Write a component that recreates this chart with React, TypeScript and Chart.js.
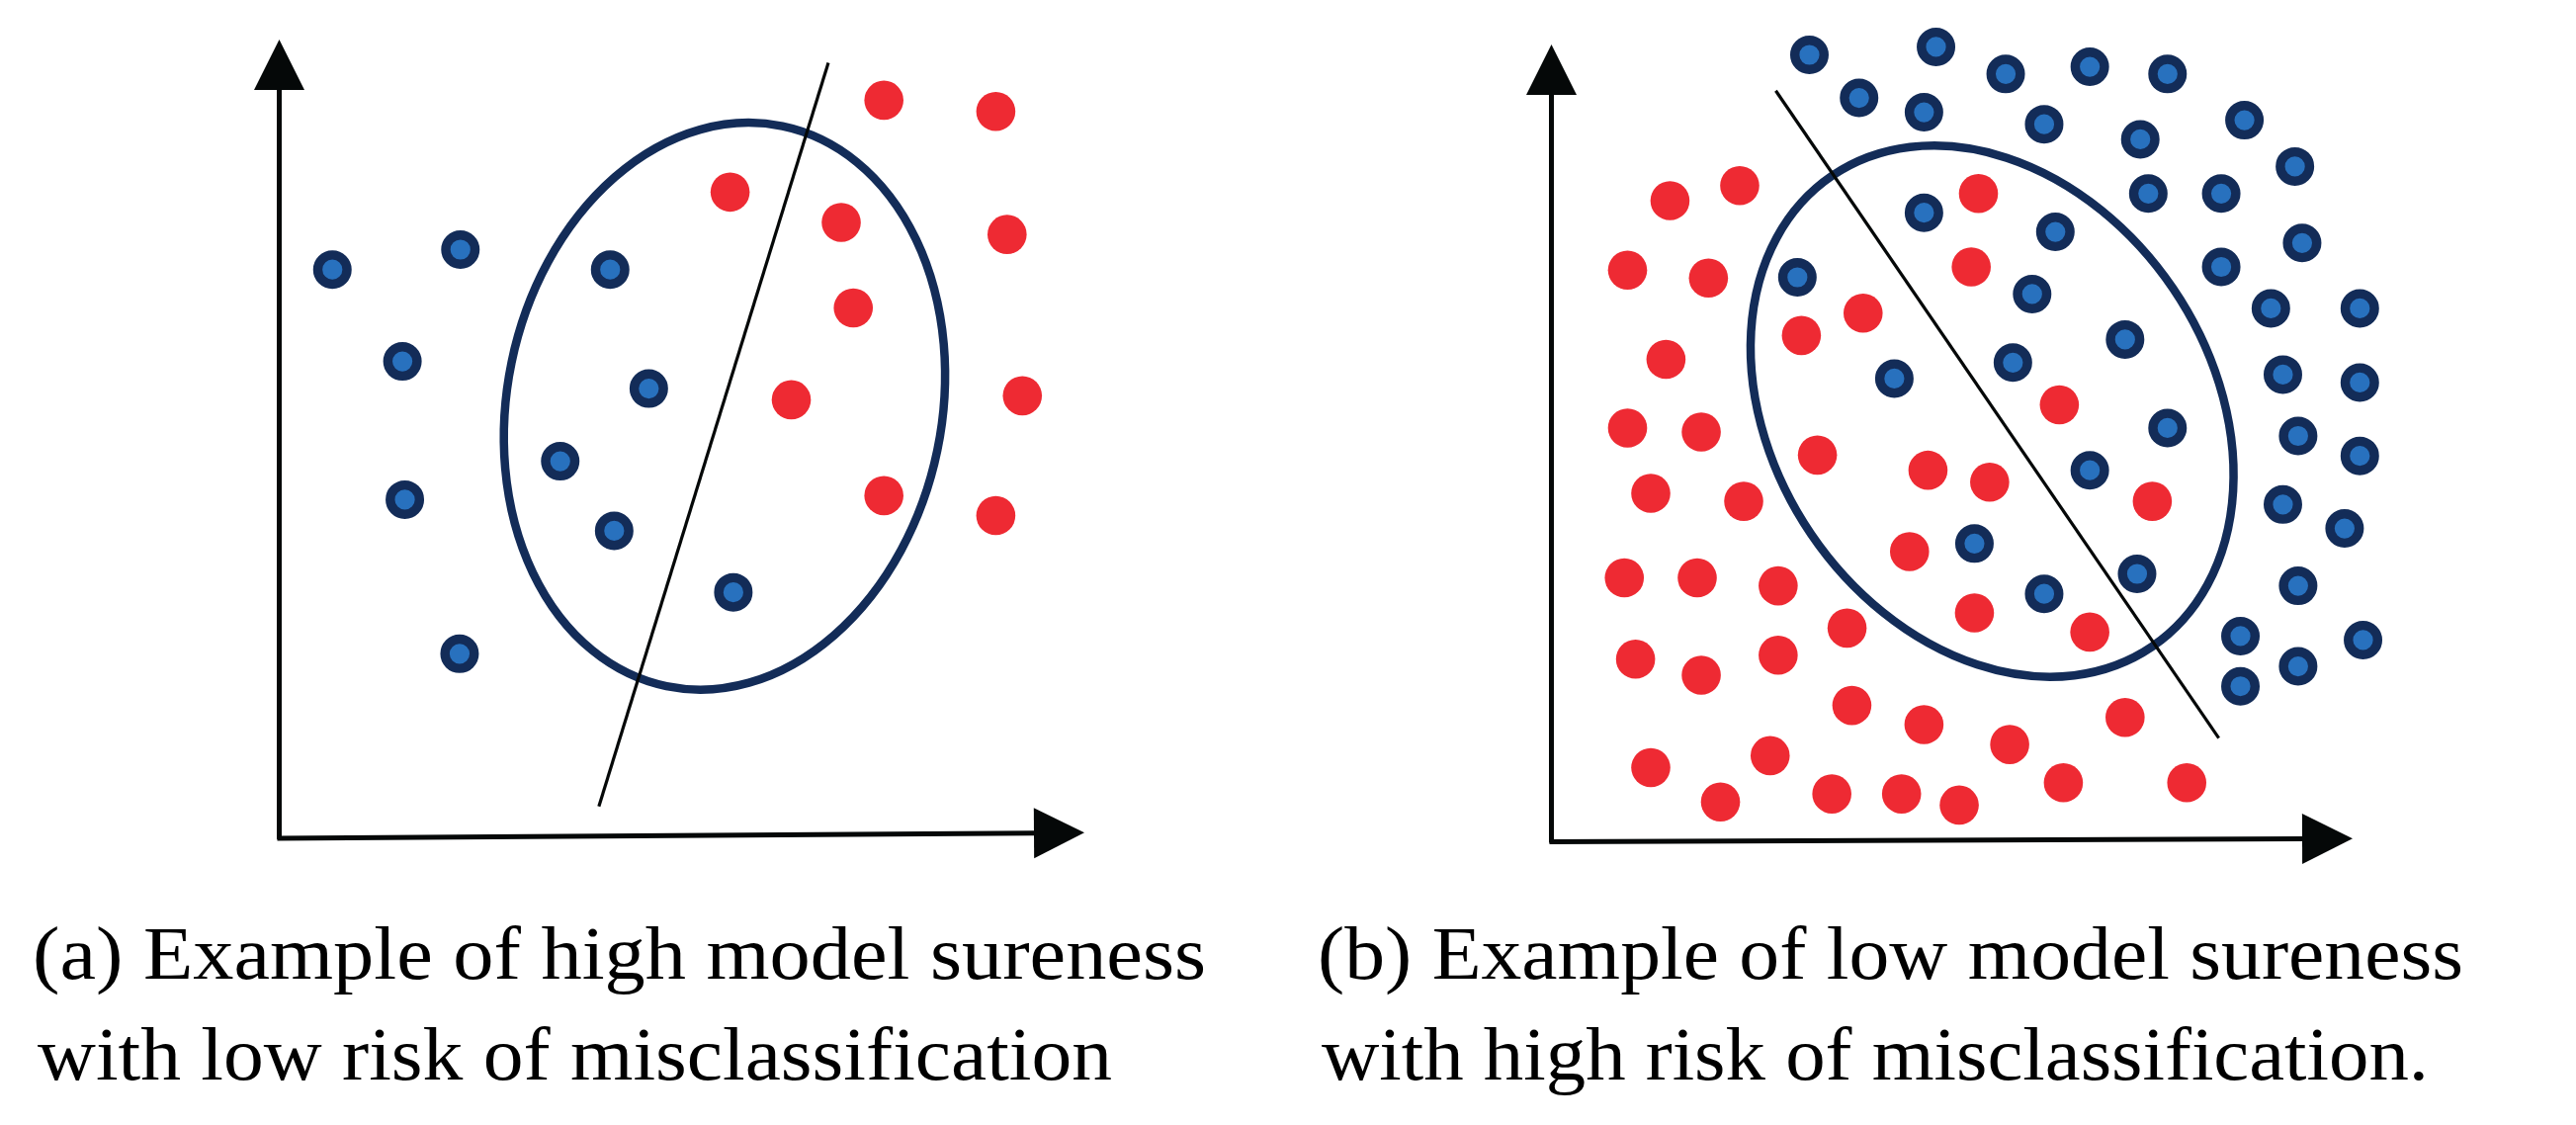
import React, { useEffect, useRef } from "react";
import { Chart, registerables } from "chart.js";

Chart.register(...registerables);

// ---------- Panel (a): high model sureness ----------
const A_BLUE_X = [0.66, 2.25, 1.53, 1.56, 2.24, 4.11, 4.59, 3.49, 4.16, 5.64];
const A_BLUE_Y = [7.12, 7.37, 5.97, 4.24, 2.31, 7.12, 5.63, 4.72, 3.85, 3.08];
const A_RED_X = [7.51, 8.9, 5.6, 6.98, 9.04, 7.13, 6.36, 9.23, 7.51, 8.9];
const A_RED_Y = [9.24, 9.1, 8.09, 7.71, 7.56, 6.64, 5.49, 5.54, 4.29, 4.04];
const A_BOUNDARY_X = [6.82, 3.97];
const A_BOUNDARY_Y = [9.71, 0.4];
const A_ELLIPSE_CENTER = [5.53, 5.41];
const A_ELLIPSE_RADII = [2.7, 3.58];
const A_ELLIPSE_TILT = 11.7;
const A_XAXIS_TILT = 0.07;
const A_CAPTION = ["(a) Example of high model sureness", "with low risk of misclassification"];

// ---------- Panel (b): low model sureness ----------
const B_BLUE_X = [
  3.22, 4.8, 5.67, 6.72, 7.69, 3.84, 4.65, 6.15, 7.35, 8.65,
  9.28, 7.45, 8.36, 4.65, 6.29, 9.37, 3.07, 8.36, 6.0, 8.98,
  10.09, 7.16, 5.76, 4.28, 9.13, 10.09, 7.69, 9.32, 10.09, 6.72,
  9.13, 9.9, 5.28, 7.31, 9.32, 6.15, 8.6, 10.13, 9.32, 8.6,
];
const B_BLUE_Y = [
  9.87, 9.97, 9.63, 9.72, 9.63, 9.33, 9.15, 9.0, 8.81, 9.05,
  8.47, 8.13, 8.13, 7.89, 7.65, 7.51, 7.08, 7.21, 6.87, 6.69,
  6.69, 6.3, 6.01, 5.81, 5.86, 5.76, 5.19, 5.09, 4.84, 4.66,
  4.23, 3.93, 3.74, 3.36, 3.21, 3.11, 2.58, 2.53, 2.2, 1.95,
];
const B_RED_X = [
  1.48, 2.35, 0.95, 1.96, 1.43, 0.95, 1.87, 1.24, 2.4, 0.91,
  1.82, 2.83, 1.05, 1.87, 2.83, 3.69, 3.75, 1.24, 2.73, 2.11,
  3.5, 4.37, 5.09, 4.65, 5.72, 6.39, 7.16, 7.93, 5.33, 5.24,
  3.89, 3.12, 3.32, 6.34, 4.7, 5.47, 7.5, 4.47, 5.28, 6.72,
];
const B_RED_Y = [
  8.04, 8.23, 7.17, 7.07, 6.05, 5.19, 5.14, 4.37, 4.27, 3.31,
  3.31, 3.21, 2.29, 2.09, 2.34, 2.68, 1.71, 0.93, 1.08, 0.5,
  0.6, 0.6, 0.46, 1.47, 1.22, 0.74, 1.56, 0.74, 8.13, 7.21,
  6.63, 6.35, 4.85, 5.48, 4.66, 4.51, 4.27, 3.64, 2.87, 2.63,
];
const B_BOUNDARY_X = [2.8, 8.33];
const B_BOUNDARY_Y = [9.42, 1.3];
const B_ELLIPSE_CENTER = [5.5, 5.4];
const B_ELLIPSE_RADII = [2.73, 3.57];
const B_ELLIPSE_TILT = -34.2;
const B_XAXIS_TILT = 0.04;
const B_CAPTION = ["(b) Example of low model sureness", "with high risk of misclassification."];

// ---------- styles ----------
const NAVY = "#132c58";
const LIGHT_BLUE = "#2871be";
const RED = "#ee2a33";
const INK = "#050808";
const CAPTION_FONT = '76px "Liberation Serif", "DejaVu Serif", serif';

const toPoints = (xs: number[], ys: number[]) => xs.map((x, i) => ({ x, y: ys[i] }));

const diagramPlugin = {
  id: "diagram",
  beforeDatasetsDraw(chart: any, _args: any, opts: any) {
    const { ctx } = chart;
    const xs = chart.scales.x;
    const ys = chart.scales.y;
    const px = (v: number) => xs.getPixelForValue(v);
    const py = (v: number) => ys.getPixelForValue(v);
    const head = 51;
    const half = 25.5;
    ctx.save();
    ctx.strokeStyle = INK;
    ctx.fillStyle = INK;
    ctx.lineWidth = 5;
    ctx.lineCap = "butt";
    const ox = px(0);
    const oy = py(0);
    // y axis
    const yTipX = px(0);
    const yTipY = py(10);
    ctx.beginPath();
    ctx.moveTo(ox, oy + 1);
    ctx.lineTo(yTipX, yTipY + head);
    ctx.stroke();
    ctx.beginPath();
    ctx.moveTo(yTipX, yTipY);
    ctx.lineTo(yTipX - half, yTipY + head);
    ctx.lineTo(yTipX + half, yTipY + head);
    ctx.closePath();
    ctx.fill();
    // x axis
    const xTipX = px(10);
    const xTipY = py(opts.xTilt);
    const dx = xTipX - ox;
    const dy = xTipY - oy;
    const len = Math.hypot(dx, dy);
    const ux = dx / len;
    const uy = dy / len;
    const bx = xTipX - ux * head;
    const by = xTipY - uy * head;
    ctx.beginPath();
    ctx.moveTo(ox - 2, oy);
    ctx.lineTo(bx, by);
    ctx.stroke();
    ctx.beginPath();
    ctx.moveTo(xTipX, xTipY);
    ctx.lineTo(bx - uy * half, by + ux * half);
    ctx.lineTo(bx + uy * half, by - ux * half);
    ctx.closePath();
    ctx.fill();
    // ellipse
    const [cx, cy] = opts.ellipseCenter;
    const [rx, ry] = opts.ellipseRadii;
    ctx.beginPath();
    ctx.ellipse(
      px(cx),
      py(cy),
      rx * (px(1) - px(0)),
      ry * (py(0) - py(1)),
      (opts.ellipseTilt * Math.PI) / 180,
      0,
      Math.PI * 2
    );
    ctx.lineWidth = 8.5;
    ctx.strokeStyle = NAVY;
    ctx.stroke();
    ctx.restore();
  },
  afterDraw(chart: any, _args: any, opts: any) {
    const { ctx } = chart;
    ctx.save();
    ctx.font = CAPTION_FONT;
    ctx.fillStyle = "#000";
    ctx.textBaseline = "alphabetic";
    ctx.textAlign = "left";
    opts.caption.forEach((text: string, i: number) => {
      const [x, base, w] = opts.captionLayout[i];
      const m = ctx.measureText(text).width;
      ctx.save();
      ctx.translate(x, base);
      ctx.scale(w / m, 1);
      ctx.fillText(text, 0, 0);
      ctx.restore();
    });
    ctx.restore();
  },
};

type PanelProps = {
  width: number;
  left: number;
  padding: { left: number; right: number; top: number; bottom: number };
  blue: { x: number; y: number }[];
  red: { x: number; y: number }[];
  boundary: { x: number; y: number }[];
  pluginOpts: any;
};

function Panel({ width, left, padding, blue, red, boundary, pluginOpts }: PanelProps) {
  const ref = useRef<HTMLCanvasElement>(null);
  useEffect(() => {
    if (!ref.current) return;
    const chart = new Chart(ref.current, {
      type: "scatter",
      data: {
        datasets: [
          {
            label: "class B",
            data: red,
            pointRadius: 19.8,
            pointBackgroundColor: RED,
            pointBorderWidth: 0,
            borderWidth: 0,
            pointHoverRadius: 19.8,
            clip: false,
          } as any,
          {
            label: "class A",
            data: blue,
            pointRadius: 14.8,
            pointBackgroundColor: LIGHT_BLUE,
            pointBorderColor: NAVY,
            pointBorderWidth: 9.4,
            pointHoverRadius: 14.8,
            clip: false,
          } as any,
          {
            label: "decision boundary",
            data: boundary,
            showLine: true,
            borderColor: INK,
            borderWidth: 3.2,
            pointRadius: 0,
            pointHoverRadius: 0,
            clip: false,
          } as any,
        ],
      },
      options: {
        animation: false,
        responsive: false,
        devicePixelRatio: 1,
        events: [],
        layout: { padding, autoPadding: false } as any,
        scales: {
          x: { type: "linear", min: 0, max: 10, display: false },
          y: { type: "linear", min: 0, max: 10, display: false },
        },
        plugins: {
          legend: { display: false },
          tooltip: { enabled: false },
          diagram: pluginOpts,
        } as any,
      },
      plugins: [diagramPlugin as any],
    });
    return () => chart.destroy();
  }, []);
  return (
    <canvas
      ref={ref}
      width={width}
      height={1138}
      style={{ position: "absolute", left, top: 0, width, height: 1138, display: "block" }}
    />
  );
}

export default function App() {
  return (
    <div
      style={{
        position: "fixed",
        left: 0,
        top: 0,
        width: 2606,
        height: 1138,
        background: "#fff",
        overflow: "hidden",
      }}
    >
      <Panel
        width={1300}
        left={0}
        padding={{ left: 282.5, right: 203, top: 40, bottom: 290 }}
        blue={toPoints(A_BLUE_X, A_BLUE_Y)}
        red={toPoints(A_RED_X, A_RED_Y)}
        boundary={toPoints(A_BOUNDARY_X, A_BOUNDARY_Y)}
        pluginOpts={{
          xTilt: A_XAXIS_TILT,
          ellipseCenter: A_ELLIPSE_CENTER,
          ellipseRadii: A_ELLIPSE_RADII,
          ellipseTilt: A_ELLIPSE_TILT,
          caption: A_CAPTION,
          captionLayout: [
            [33, 990, 1187],
            [38, 1092, 1087],
          ],
        }}
      />
      <Panel
        width={1306}
        left={1300}
        padding={{ left: 269.5, right: 226, top: 45, bottom: 286.5 }}
        blue={toPoints(B_BLUE_X, B_BLUE_Y)}
        red={toPoints(B_RED_X, B_RED_Y)}
        boundary={toPoints(B_BOUNDARY_X, B_BOUNDARY_Y)}
        pluginOpts={{
          xTilt: B_XAXIS_TILT,
          ellipseCenter: B_ELLIPSE_CENTER,
          ellipseRadii: B_ELLIPSE_RADII,
          ellipseTilt: B_ELLIPSE_TILT,
          caption: B_CAPTION,
          captionLayout: [
            [33, 990, 1159],
            [37, 1092, 1120],
          ],
        }}
      />
    </div>
  );
}
